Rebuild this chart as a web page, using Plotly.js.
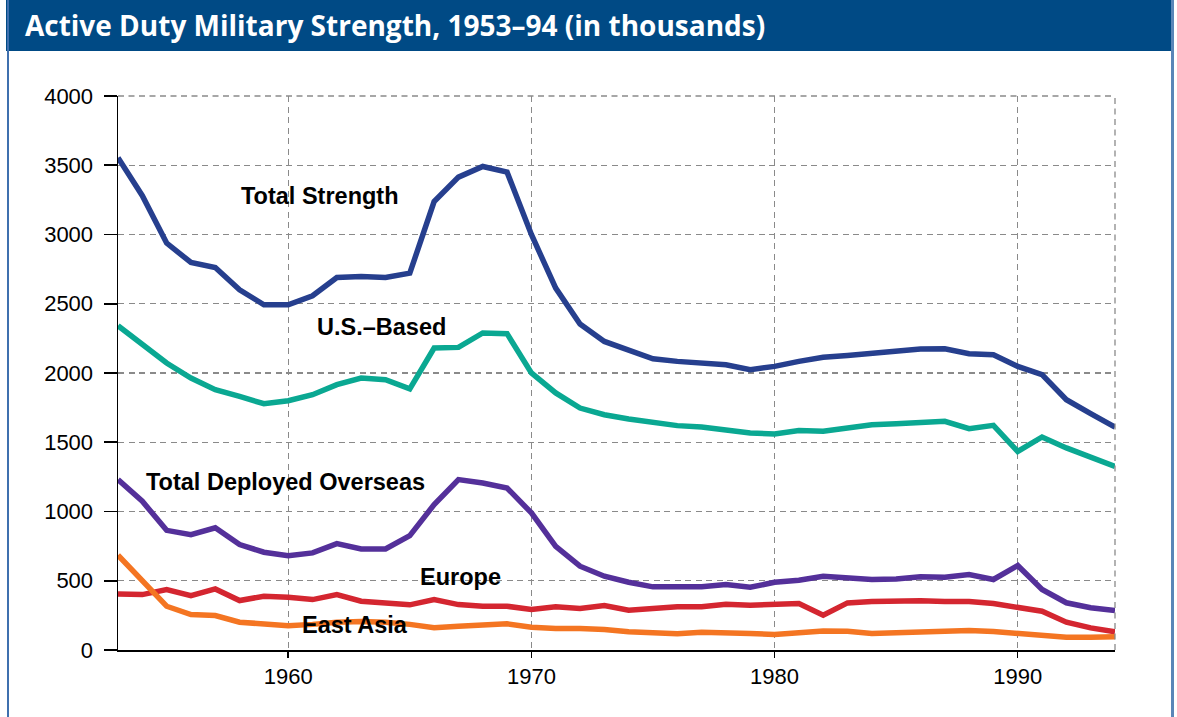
<!DOCTYPE html>
<html>
<head>
<meta charset="utf-8">
<script src="https://cdn.plot.ly/plotly-3.0.1.min.js"></script>
<style>
  html, body { margin: 0; padding: 0; background: #ffffff; }
  #frame { position: absolute; left: 0; top: 0; width: 1177px; height: 717px; overflow: hidden; background: #ffffff; }
  #bar { position: absolute; left: 6px; top: 0px; width: 1168px; height: 51px; background: #004a85; }
  #lb { position: absolute; left: 7px; top: 0px; width: 2px; height: 717px; background: #3f70ae; }
  #rb { position: absolute; left: 1171px; top: 0px; width: 3px; height: 717px; background: #5a86b8; }
  #chart { position: absolute; left: 0; top: 0; width: 1177px; height: 717px; }
</style>
</head>
<body>
<div id="frame">
  <div id="bar"></div>
  <div id="lb"></div>
  <div id="rb"></div>
  <div id="chart"></div>
</div>
<script>
// ---- data (thousands) ----
const years = [1953,1954,1955,1956,1957,1958,1959,1960,1961,1962,1963,1964,1965,1966,1967,1968,1969,1970,1971,1972,1973,1974,1975,1976,1977,1978,1979,1980,1981,1982,1983,1984,1985,1986,1987,1988,1989,1990,1991,1992,1993,1994];

const totalStrength = [3555,3280,2938,2798,2762,2601,2493,2493,2558,2690,2697,2690,2721,3238,3414,3491,3450,3000,2613,2353,2228,2163,2103,2084,2072,2060,2024,2048,2084,2113,2127,2144,2156,2173,2175,2139,2132,2048,1988,1807,1706,1610];

const usBased = [2341,2204,2072,1964,1880,1831,1778,1800,1843,1916,1964,1952,1885,2180,2185,2289,2284,2000,1856,1747,1699,1668,1644,1620,1610,1586,1567,1560,1584,1579,1603,1627,1634,1644,1651,1598,1622,1434,1538,1459,1394,1326];

const deployedOverseas = [1230,1074,864,833,882,761,706,680,701,768,730,730,826,1050,1230,1206,1170,990,749,605,533,489,456,456,456,473,453,489,504,533,521,509,513,528,525,545,509,610,437,341,305,285];

const europe = [405,400,436,393,441,357,388,381,364,400,352,335,326,364,328,316,316,292,312,300,321,287,297,312,312,330,323,333,335,251,340,350,355,355,350,350,335,304,280,201,160,131];

const eastAsia = [684,497,316,256,249,201,189,175,185,200,205,200,185,160,172,184,189,165,155,155,148,131,124,117,128,128,119,112,124,138,136,119,124,128,128,141,133,117,100,92,92,95];

const seriesNames = ["Total Strength","U.S.\u2013Based","Total Deployed Overseas","Europe","East Asia"];
const seriesValues = [totalStrength, usBased, deployedOverseas, europe, eastAsia];
const seriesColors = ["#263f8e","#0aa892","#54309a","#d42630","#f47522"];

const yTickVals = [0,500,1000,1500,2000,2500,3000,3500,4000];
const xTickVals = [1960,1970,1980,1990];

// label anchor points (in data units)
const labelX = [1961.3, 1963.85, 1959.9, 1967.1, 1962.75];
const labelY = [3279, 2334, 1216, 530, 184];

const tickFont = {family: "Liberation Sans, Arial, sans-serif", size: 22, color: "#000000"};
const labelFont = {family: "Liberation Sans, Arial, sans-serif", size: 23.5, color: "#000000", weight: 700};

const traces = seriesValues.map((vals, i) => ({
  type: "scatter",
  mode: "lines",
  name: seriesNames[i],
  x: years,
  y: vals,
  line: {color: seriesColors[i], width: 5.5},
  hoverinfo: "x+y+name"
}));

const annotations = seriesNames.map((nm, i) => ({
  x: labelX[i], y: labelY[i], xref: "x", yref: "y",
  text: nm, showarrow: false, font: labelFont,
  xanchor: "center", yanchor: "middle"
}));

const gridDash = "6px,4.5px";

const layout = {
  width: 1177, height: 717,
  margin: {l: 118, r: 62, t: 96, b: 67, pad: 0},
  paper_bgcolor: "rgba(0,0,0,0)",
  plot_bgcolor: "rgba(0,0,0,0)",
  showlegend: false,
  title: {
    text: "Active Duty Military Strength, 1953\u201394 (in thousands)",
    font: {family: "Open Sans, Noto Sans, sans-serif", size: 28, color: "#ffffff", weight: 700},
    xref: "container", yref: "container",
    x: 0.0212, xanchor: "left", y: 1 - 26/717, yanchor: "middle"
  },
  xaxis: {
    range: [1953, 1994],
    tickmode: "array", tickvals: xTickVals,
    ticks: "outside", ticklen: 6, tickwidth: 1.5, tickcolor: "#000000",
    tickfont: tickFont, ticklabelstandoff: 0,
    showline: true, linecolor: "#000000", linewidth: 1.5,
    showgrid: true, gridcolor: "#8a8a8a", gridwidth: 1.3, griddash: gridDash,
    zeroline: false, fixedrange: true
  },
  xaxis2: {
    overlaying: "x", anchor: "y", side: "bottom",
    range: [1953, 1994],
    tickmode: "array", tickvals: years,
    ticks: "inside", ticklen: 6, tickwidth: 1.5, tickcolor: "#000000",
    showticklabels: false, showgrid: false, showline: false, zeroline: false, fixedrange: true
  },
  yaxis: {
    range: [0, 4000],
    tickmode: "array", tickvals: yTickVals,
    ticks: "outside", ticklen: 13, tickwidth: 1.8, tickcolor: "#000000",
    tickfont: tickFont, ticklabelstandoff: 6,
    showline: true, linecolor: "#000000", linewidth: 1.5,
    showgrid: true, gridcolor: "#8a8a8a", gridwidth: 1.3, griddash: gridDash,
    zeroline: false, fixedrange: true
  },
  yaxis2: {
    overlaying: "y", anchor: "x", side: "left",
    range: [0, 4000],
    tickmode: "array", tickvals: yTickVals,
    ticks: "inside", ticklen: 12, tickwidth: 1.8, tickcolor: "#000000",
    showticklabels: false, showgrid: false, showline: false, zeroline: false, fixedrange: true
  },
  shapes: [
    {type: "line", xref: "paper", yref: "paper", x0: 1, x1: 1, y0: 0, y1: 1,
     line: {color: "#8a8a8a", width: 1.3, dash: gridDash}},
    {type: "line", xref: "paper", yref: "paper", x0: 0, x1: 1, y0: 1, y1: 1,
     line: {color: "#8a8a8a", width: 1.3, dash: gridDash}}
  ],
  annotations: annotations
};

Plotly.newPlot("chart", traces, layout, {displayModeBar: false, staticPlot: true});
</script>
</body>
</html>
